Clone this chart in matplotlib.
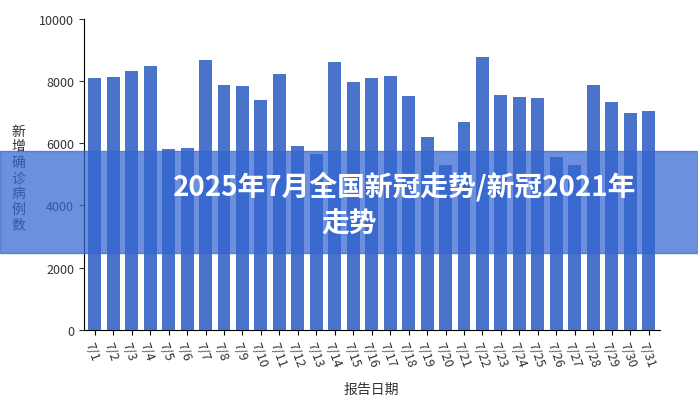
import matplotlib
matplotlib.use("Agg")
import matplotlib.pyplot as plt
from matplotlib.patches import Rectangle

plt.rcParams['font.family'] = ['Noto Sans CJK SC', 'DejaVu Sans']

dates = [f"7/{i}" for i in range(1, 32)]
cases = [8100, 8130, 8330, 8490, 5820, 5850, 8680, 7880, 7850, 7400, 8230, 5920, 5660,
         8620, 7970, 8100, 8170, 7520, 6200, 5300, 6690, 8780, 7560, 7490, 7460, 5560,
         5300, 7880, 7330, 6980, 7040]

fig = plt.figure(figsize=(6.98, 4.06), dpi=100)
ax = fig.add_axes([0.12, 0.185, 0.825, 0.766])
ax.bar(range(len(dates)), cases, width=0.7, color='#4a74cc')
ax.set_xlim(-0.6, len(dates) - 0.4)
ax.set_ylim(0, 10000)
ax.set_yticks([0, 2000, 4000, 6000, 8000, 10000])
ax.set_xticks(range(len(dates)))
ax.set_xticklabels(dates, rotation=-70, ha='left', va='top', rotation_mode='anchor', fontsize=9, color='#333')
ax.tick_params(axis='y', labelsize=9, colors='#333')
for s in ['top', 'right']:
    ax.spines[s].set_visible(False)
ax.set_xlabel("报告日期", fontsize=10, color='#333', labelpad=10)
fig.text(0.026, 0.56, "\n".join("新增确诊病例数"), fontsize=10, color='#333',
         ha='center', va='center', linespacing=1.15)

fig.patches.append(Rectangle((0, 1 - 254/406), 1, 102/406, transform=fig.transFigure,
                             color=(0.2, 0.4, 0.82, 0.72), zorder=5))
fig.text(405/698, 1 - 187/406, "2025年7月全国新冠走势/新冠2021年", fontsize=20, fontweight='bold',
         color='white', ha='center', va='center', zorder=6)
fig.text(349/698, 1 - 225/406, "走势", fontsize=20, fontweight='bold',
         color='white', ha='center', va='center', zorder=6)
fig.text(0.985, 0.035, "@谈斋法原", fontsize=10, color='white', ha='right', va='center',
         alpha=0.9, zorder=6)
fig.savefig("out.png", dpi=100)
